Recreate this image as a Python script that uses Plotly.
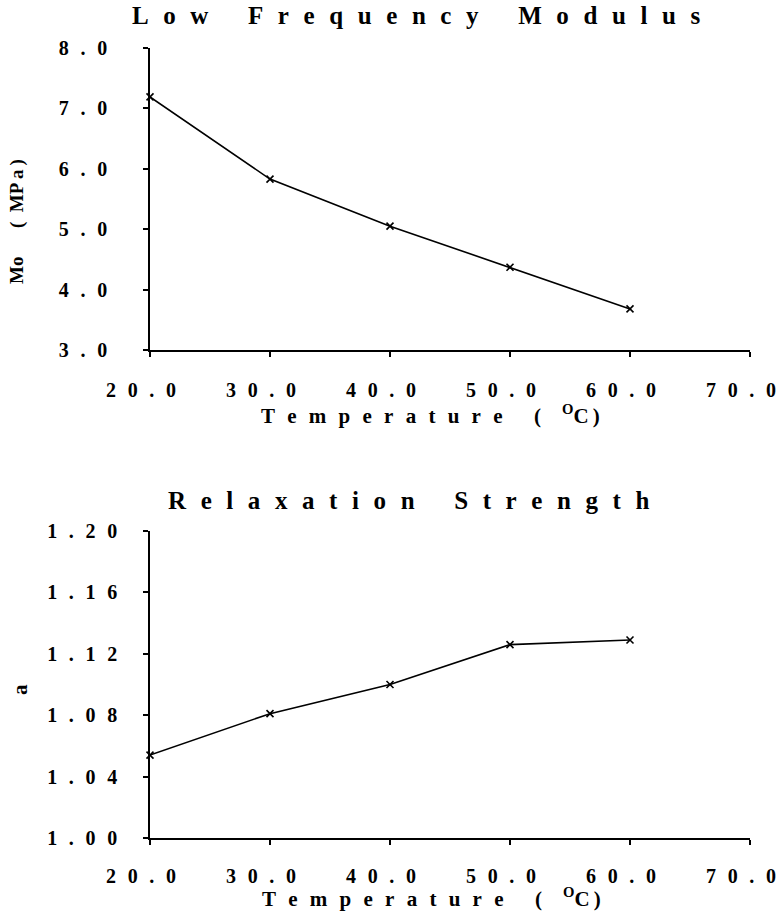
import plotly.graph_objects as go

# Measured data
temperature = [20, 30, 40, 50, 60]
modulus_mpa = [7.19, 5.83, 5.05, 4.37, 3.68]
relax_strength = [1.054, 1.081, 1.100, 1.126, 1.129]

# Axis ticks
x_ticks = [20, 30, 40, 50, 60, 70]
x_tick_labels = ["20.0", "30.0", "40.0", "50.0", "60.0", "70.0"]
mod_ticks = [3, 4, 5, 6, 7, 8]
mod_tick_labels = ["3.0", "4.0", "5.0", "6.0", "7.0", "8.0"]
rs_ticks = [1.00, 1.04, 1.08, 1.12, 1.16, 1.20]
rs_tick_labels = ["1.00", "1.04", "1.08", "1.12", "1.16", "1.20"]

SEP = "\u2002\u200a"
WORD_SEP = "\u2003\u2002\u200a"
FONT = "Liberation Serif, Times New Roman, serif"


def spaced(text, sep=SEP, word_sep=WORD_SEP):
    """Typewriter-style letter spacing."""
    return word_sep.join(sep.join(w) for w in text.split(" "))


W, H = 782, 913
fig = go.Figure()

line_style = dict(color="black", width=1.6)
marker_style = dict(symbol="x-thin", size=7, line=dict(color="black", width=1.6))

fig.add_trace(go.Scatter(x=temperature, y=modulus_mpa, mode="lines+markers",
                         line=line_style, marker=marker_style, cliponaxis=False,
                         xaxis="x", yaxis="y", showlegend=False))
fig.add_trace(go.Scatter(x=temperature, y=relax_strength, mode="lines+markers",
                         line=line_style, marker=marker_style, cliponaxis=False,
                         xaxis="x2", yaxis="y2", showlegend=False))

tick_font = dict(family=FONT, size=20, color="black", weight="bold")
axis_common = dict(showline=True, linecolor="black", linewidth=1.6,
                   ticks="outside", ticklen=5, tickwidth=1.5, tickcolor="black",
                   showgrid=False, zeroline=False, tickfont=tick_font,
                   automargin=False, ticklabeloverflow="allow")

xd = [150 / W, 750 / W]
x_text = [spaced(t) for t in x_tick_labels]

fig.update_layout(
    width=W, height=H,
    margin=dict(l=0, r=0, t=0, b=0),
    paper_bgcolor="white", plot_bgcolor="white",
    xaxis=dict(domain=xd, anchor="y", range=[20, 70], tickvals=x_ticks,
               ticktext=x_text, ticklabelstandoff=16, ticklabelshift=-9,
               **axis_common),
    yaxis=dict(domain=[1 - 350 / H, 1 - 48 / H], anchor="x", range=[3, 8],
               tickvals=mod_ticks, ticktext=[spaced(t) for t in mod_tick_labels],
               ticklabelstandoff=32, **axis_common),
    xaxis2=dict(domain=xd, anchor="y2", range=[20, 70], tickvals=x_ticks,
                ticktext=x_text, ticklabelstandoff=14, ticklabelshift=-9,
                **axis_common),
    yaxis2=dict(domain=[1 - 838 / H, 1 - 531 / H], anchor="x2", range=[1.0, 1.2],
                tickvals=rs_ticks, ticktext=[spaced(t) for t in rs_tick_labels],
                ticklabelstandoff=22, **axis_common),
)

title_font = dict(family=FONT, size=25, color="black", weight="bold")
axis_title_font = dict(family=FONT, size=21, color="black", weight="bold")
ytitle_font = dict(family=FONT, size=19, color="black", weight="bold")

temp_title = spaced("Temperature") + "\u2003\u2002(\u2003<sup>O</sup>C\u2009)"

annotations = [
    dict(text=spaced("Low Frequency Modulus"), x=416 / W, y=1 - 16 / H,
         font=title_font),
    dict(text=spaced("Relaxation Strength"), x=408 / W, y=1 - 501 / H,
         font=title_font),
    dict(text=temp_title, x=430 / W, y=1 - 414 / H, font=axis_title_font),
    dict(text=temp_title, x=432 / W, y=1 - 897 / H, font=axis_title_font),
    dict(text="Mo\u2003\u2002(\u2002MP\u2009a\u2009)", x=17 / W, y=1 - 222 / H,
         textangle=-90, font=ytitle_font),
    dict(text="a", x=20 / W, y=1 - 690 / H, textangle=-90,
         font=dict(family=FONT, size=21, color="black", weight="bold")),
]
for a in annotations:
    a.update(xref="paper", yref="paper", showarrow=False,
             xanchor="center", yanchor="middle")
fig.update_layout(annotations=annotations)

fig.write_html("out.html")
